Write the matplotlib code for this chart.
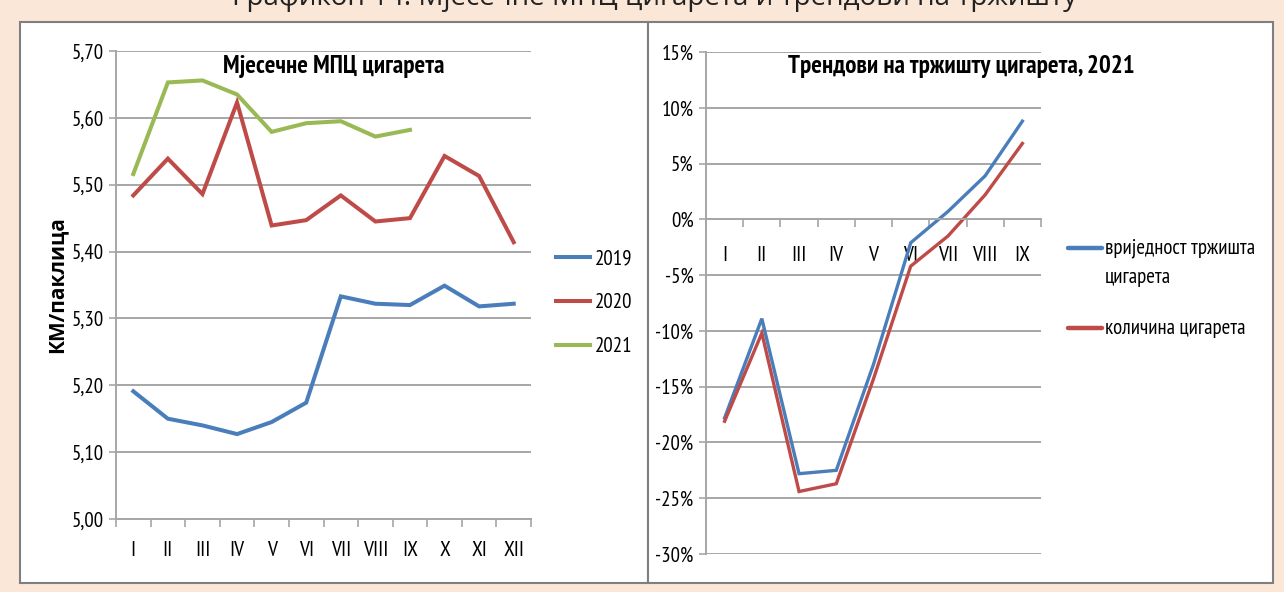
import matplotlib
matplotlib.use('Agg')
import matplotlib.pyplot as plt
from matplotlib.lines import Line2D
from matplotlib.patches import Rectangle
from matplotlib.ticker import FixedLocator, FuncFormatter

plt.rcParams['font.family'] = ['PT Sans Narrow', 'Roboto Condensed', 'Carlito', 'DejaVu Sans']

# podaci - lijevi grafikon
mjeseci = ['I', 'II', 'III', 'IV', 'V', 'VI', 'VII', 'VIII', 'IX', 'X', 'XI', 'XII']
mpc_2019 = [5.191, 5.150, 5.140, 5.127, 5.145, 5.174, 5.333, 5.322, 5.320, 5.349, 5.318, 5.322]
mpc_2020 = [5.484, 5.539, 5.486, 5.623, 5.439, 5.447, 5.484, 5.445, 5.450, 5.543, 5.513, 5.414]
mpc_2021 = [5.516, 5.653, 5.656, 5.635, 5.579, 5.592, 5.595, 5.572, 5.582]

# podaci - desni grafikon (%)
mjeseci_2021 = ['I', 'II', 'III', 'IV', 'V', 'VI', 'VII', 'VIII', 'IX']
vrijednost = [-17.8, -8.9, -22.8, -22.5, -13.0, -2.1, 0.7, 3.9, 8.8]
kolicina = [-18.1, -10.2, -24.4, -23.7, -14.3, -4.2, -1.5, 2.2, 6.8]

plava = '#4A7EBB'
crvena = '#BE4B48'
zelena = '#98B954'
siva = '#A6A6A6'

W, H = 1284, 592
fig = plt.figure(figsize=(12.84, 5.92), dpi=100)
fig.patch.set_facecolor('#FBE7D8')

def fx(px):
    return px / W

def fy(py):
    return 1 - py / H

# bijeli paneli
for x0, x1 in [(20, 648), (648, 1273)]:
    fig.add_artist(Rectangle((fx(x0), fy(583)), fx(x1 - x0), (583 - 22) / H,
                             transform=fig.transFigure, facecolor='white',
                             edgecolor='#7F7F7F', linewidth=1.5, zorder=0))

fig.text(fx(654), fy(5), 'Графикон 14: Мјесечне МПЦ цигарета и трендови на тржишту',
         ha='center', va='baseline', fontsize=20, family=['Open Sans', 'DejaVu Sans'],
         color='#222222')

# lijevi grafikon
ax1 = fig.add_axes([fx(116), fy(519), fx(531 - 116), (519 - 51) / H])
x1 = list(range(len(mjeseci)))
ax1.plot(x1, mpc_2019, color=plava, lw=2.9, label='2019', solid_joinstyle='miter')
ax1.plot(x1, mpc_2020, color=crvena, lw=2.9, label='2020', solid_joinstyle='miter')
ax1.plot(x1[:len(mpc_2021)], mpc_2021, color=zelena, lw=2.9, label='2021', solid_joinstyle='miter')
ax1.set_xlim(-0.5, len(mjeseci) - 0.5)
ax1.set_ylim(5.0, 5.7)
ax1.set_yticks([5.0 + 0.1 * i for i in range(8)])
ax1.yaxis.set_major_formatter(FuncFormatter(lambda v, p: f'{v:.2f}'.replace('.', ',')))
ax1.set_xticks(x1)
ax1.set_xticklabels(mjeseci)
ax1.xaxis.set_minor_locator(FixedLocator([i + 0.5 for i in range(-1, len(mjeseci))]))
ax1.tick_params(axis='x', which='major', length=0, pad=16, labelsize=15.5)
ax1.tick_params(axis='x', which='minor', length=6, color=siva, width=1.2)
ax1.tick_params(axis='y', length=5, color=siva, width=1.2, labelsize=15, pad=4)
ax1.grid(axis='y', color=siva, lw=1.4)
ax1.set_axisbelow(True)
for s in ['top', 'right']:
    ax1.spines[s].set_visible(False)
for s in ['left', 'bottom']:
    ax1.spines[s].set_color(siva)
    ax1.spines[s].set_linewidth(1.4)
fig.text(fx(334), fy(66), 'Мјесечне МПЦ цигарета', ha='center', va='center',
         fontsize=18, fontweight='bold')
fig.text(fx(57), fy(285), 'КМ/паклица', rotation=90, ha='center', va='center',
         fontsize=15, fontweight='bold', family=['Open Sans', 'DejaVu Sans'])
ax1.legend(loc='center left', bbox_to_anchor=(fx(556), fy(303)), bbox_transform=fig.transFigure,
           frameon=False, fontsize=15, handlelength=1.65, handletextpad=0.2,
           labelspacing=1.2, borderpad=0, borderaxespad=0)

# desni grafikon
ax2 = fig.add_axes([fx(706), fy(554), fx(1041 - 706), (554 - 52) / H])
x2 = list(range(len(mjeseci_2021)))
ax2.plot(x2, vrijednost, color=plava, lw=2.4, solid_joinstyle='miter')
ax2.plot(x2, kolicina, color=crvena, lw=2.4, solid_joinstyle='miter')
ax2.set_xlim(-0.5, len(mjeseci_2021) - 0.5)
ax2.set_ylim(-30, 15)
ax2.set_yticks(range(-30, 16, 5))
ax2.yaxis.set_major_formatter(FuncFormatter(lambda v, p: f'{v:.0f}%'))
ax2.set_xticks(x2)
ax2.set_xticklabels(mjeseci_2021)
ax2.xaxis.set_minor_locator(FixedLocator([i + 0.5 for i in range(-1, len(mjeseci_2021))]))
ax2.tick_params(axis='x', which='major', length=0, pad=19, labelsize=15.5)
ax2.tick_params(axis='x', which='minor', length=6, color=siva, width=1.2)
ax2.tick_params(axis='y', length=5, color=siva, width=1.2, labelsize=15, pad=4)
ax2.grid(axis='y', color=siva, lw=1.4)
ax2.set_axisbelow(True)
ax2.spines['bottom'].set_position(('data', 0))
for s in ['top', 'right']:
    ax2.spines[s].set_visible(False)
for s in ['left', 'bottom']:
    ax2.spines[s].set_color(siva)
    ax2.spines[s].set_linewidth(1.4)
fig.text(fx(961), fy(66), 'Трендови на тржишту цигарета, 2021', ha='center', va='center',
         fontsize=18, fontweight='bold')

# legenda desno
legenda = [(plava, 248, ['вриједност тржишта', 'цигарета']),
           (crvena, 328, ['количина цигарета'])]
for boja, yy, redovi in legenda:
    fig.add_artist(Line2D([fx(1068), fx(1102)], [fy(yy), fy(yy)], color=boja, lw=3.2,
                          transform=fig.transFigure, solid_capstyle='round'))
    for i, red in enumerate(redovi):
        fig.text(fx(1105), fy(yy + 30 * i), red, ha='left', va='center', fontsize=15)

fig.savefig('out.png', dpi=100, facecolor=fig.get_facecolor())
